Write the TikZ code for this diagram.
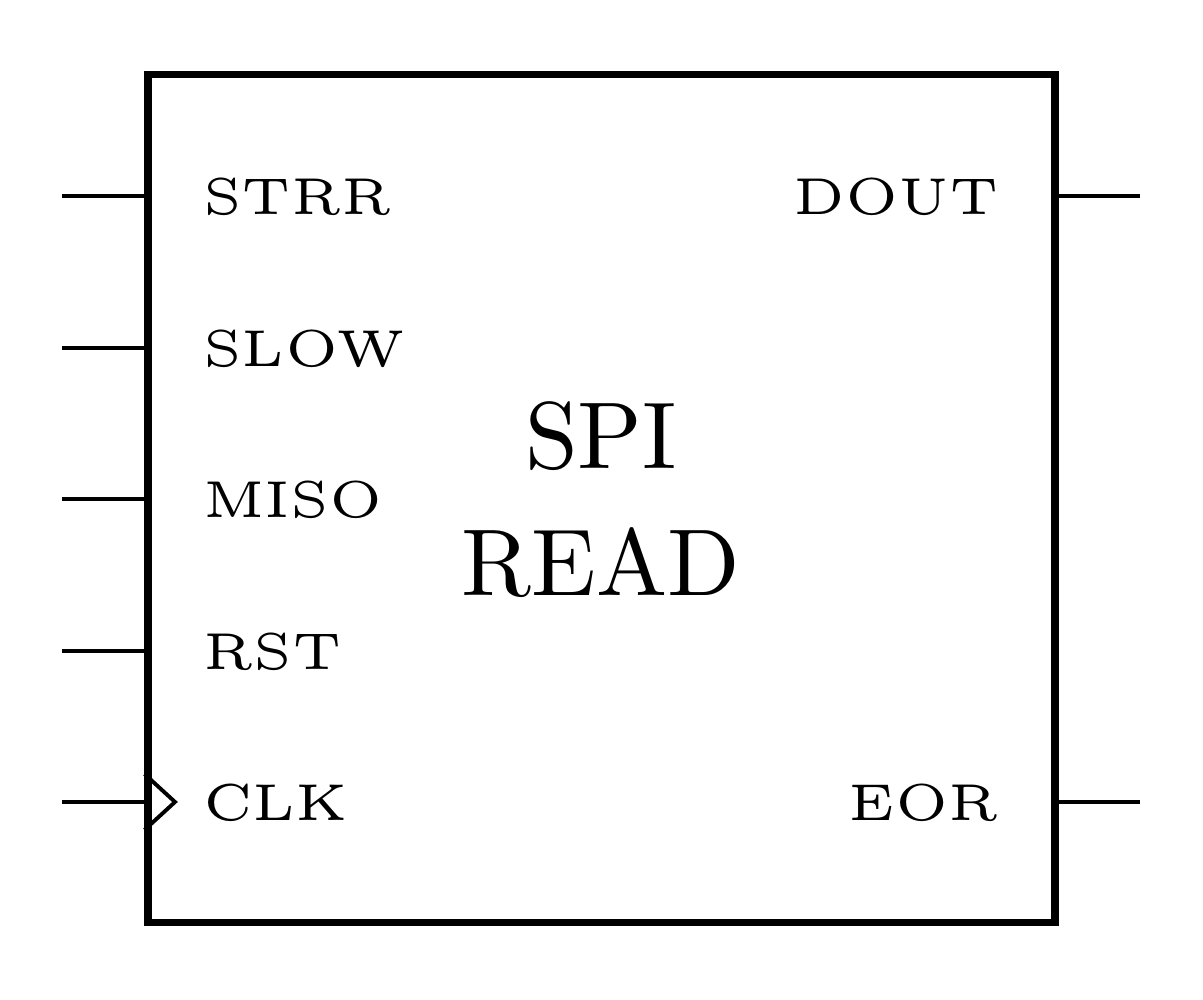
\documentclass[tikz,border=0pt]{standalone}
\usepackage{tikz}
\usetikzlibrary{positioning}

\tikzset{
    pin/.style={line width=1.1pt},
    port/.style={inner sep=0pt, font=\tiny, scale=2.95, transform shape},
}

\begin{document}
\begin{tikzpicture}
    \useasboundingbox (0,0) rectangle (12.03,10);

    % block body
    \node[draw, line width=2pt, minimum width=9.07cm, minimum height=8.48cm, inner sep=0pt] (blk) at (6.015,5.01) {};

    % title
    \node[align=center, inner sep=0pt, font=\fontsize{10}{13.4}\selectfont, scale=2.7, transform shape] (title) at (6.01,5.0) {SPI\\READ};

    % inputs
    \coordinate (strrin) at (0.62,8.04);
    \coordinate (slowin) at (0.62,6.52);
    \coordinate (misoin) at (0.62,5.01);
    \coordinate (rstin)  at (0.62,3.49);
    \coordinate (clkin)  at (0.62,1.98);
    \draw[pin] (strrin) -- (strrin -| blk.west);
    \draw[pin] (slowin) -- (slowin -| blk.west);
    \draw[pin] (misoin) -- (misoin -| blk.west);
    \draw[pin] (rstin)  -- (rstin -| blk.west);
    \draw[pin] (clkin)  -- (clkin -| blk.west);

    \node[port, anchor=base west] (strr) at (2.01,7.85) {STRR};
    \node[port, anchor=base west] (slow) at (2.01,6.33) {SLOW};
    \node[port, anchor=base west] (miso) at (2.01,4.82) {MISO};
    \node[port, anchor=base west] (rst)  at (2.01,3.30) {RST};
    \node[port, anchor=base west] (clk)  at (2.01,1.79) {CLK};

    % clock marker
    \coordinate (clktip) at (1.75,1.98);
    \draw[pin] ([yshift=0.28cm]clkin -| blk.west) -- (clktip) -- ([yshift=-0.28cm]clkin -| blk.west);

    % outputs
    \coordinate (doutout) at (11.40,8.04);
    \coordinate (eorout)  at (11.40,1.98);
    \draw[pin] (doutout -| blk.east) -- (doutout);
    \draw[pin] (eorout -| blk.east) -- (eorout);

    \node[port, anchor=base east] (dout) at (10.01,7.85) {DOUT};
    \node[port, anchor=base east] (eor)  at (10.01,1.79) {EOR};
\end{tikzpicture}
\end{document}
